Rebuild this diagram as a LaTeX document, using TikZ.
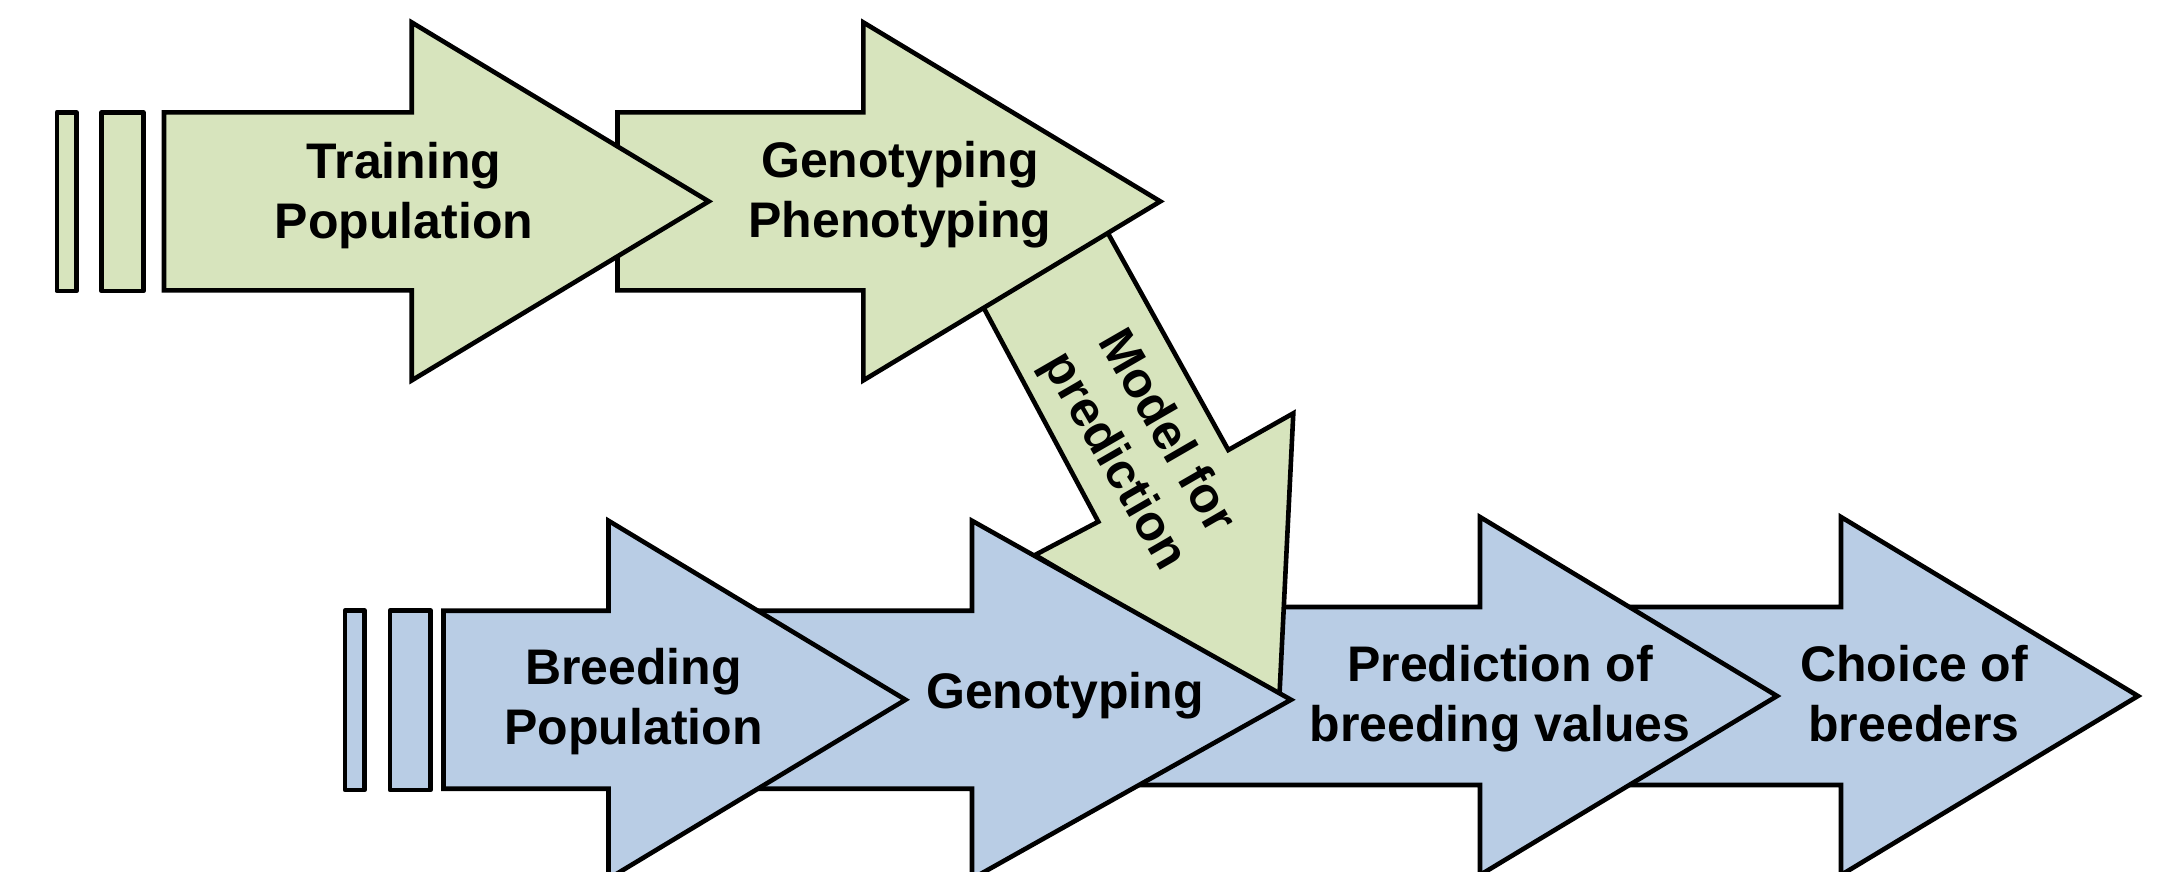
\documentclass[tikz,border=0pt]{standalone}
\usepackage{fontspec}
\setmainfont{Liberation Sans}
\usetikzlibrary{calc}
\newcommand*{\bhh }{89}
\newcommand*{\hdh }{179}
\newcommand*{\hdl }{297}
\definecolor{trainfill}{HTML}{D7E4BD}
\definecolor{breedfill}{HTML}{B9CDE5}

\begin{document}
\begin{tikzpicture}[x=0.5pt, y=-0.5pt, font=\bfseries\fontsize{25}{30}\selectfont,
        train/.style={fill=trainfill, draw=black, line width=2.3pt},
        breed/.style={fill=breedfill, draw=black, line width=2.3pt},
        bar/.style={line join=round},
        lbl/.style={align=center, inner sep=0pt}]
    \useasboundingbox (0,0) rectangle (2167,872);
        % lower row, last arrow first so that each one lies over the next
        \draw [breed] (1560,696) ++(0,-\bhh) -- ++(281,0) -- ++(0,\bhh-\hdh) -- ++(\hdl,\hdh) -- ++(-\hdl,\hdh) -- ++(0,\bhh-\hdh) -- ++(-281,0) -- cycle;
        \draw [breed] (1050,696) ++(0,-\bhh) -- ++(430,0) -- ++(0,\bhh-\hdh) -- ++(\hdl,\hdh) -- ++(-\hdl,\hdh) -- ++(0,\bhh-\hdh) -- ++(-430,0) -- cycle;
        % the model arrow comes down from the upper row
        \draw [train] (968.8,280) -- (1098.3,521.7) -- (1035,555) -- (1279.3,698.3) -- (1293.3,413.3) -- (1228.3,450) -- (1078.4,180) -- cycle;
        \draw [breed] (700,699.75) ++(0,-\bhh) -- ++(272,0) -- ++(0,\bhh-\hdh) -- ++(319,\hdh) -- ++(-319,\hdh) -- ++(0,\bhh-\hdh) -- ++(-272,0) -- cycle;
        \draw [breed] (443.5,699.75) ++(0,-\bhh) -- ++(165,0) -- ++(0,\bhh-\hdh) -- ++(\hdl,\hdh) -- ++(-\hdl,\hdh) -- ++(0,\bhh-\hdh) -- ++(-165,0) -- cycle;
        % upper row
        \draw [train] (617.5,201.4) ++(0,-\bhh) -- ++(245.8,0) -- ++(0,\bhh-\hdh) -- ++(\hdl,\hdh) -- ++(-\hdl,\hdh) -- ++(0,\bhh-\hdh) -- ++(-245.8,0) -- cycle;
        \draw [train] (164,201.4) ++(0,-\bhh) -- ++(247.7,0) -- ++(0,\bhh-\hdh) -- ++(\hdl,\hdh) -- ++(-\hdl,\hdh) -- ++(0,\bhh-\hdh) -- ++(-247.7,0) -- cycle;
        % small bars in front of each row
        \draw [train, bar] (56.8,112.5) rectangle (76.5,291);
        \draw [train, bar] (101.5,112.5) rectangle (143.3,291);
        \draw [breed, bar] (345,610.5) rectangle (364.5,790);
        \draw [breed, bar] (390,610.5) rectangle (430.5,790);
        % labels
        \node [lbl] (trainpop) at (404,195.5) {Training\\Population};
        \node [lbl] (genopheno) at (900,194.75) {Genotyping\\Phenotyping};
        \node [lbl, rotate=-60] (model) at (1139,447) {Model for\\prediction};
        \node [lbl] (breedpop) at (633.5,701.75) {Breeding\\Population};
        \node [lbl] (geno) at (1065,695.75) {Genotyping};
        \node [lbl] (predict) at (1500,698.7) {Prediction of\\breeding values};
        \node [lbl] (choice) at (1914,693.7) {Choice of\\breeders};
    \end{tikzpicture}
\end{document}
